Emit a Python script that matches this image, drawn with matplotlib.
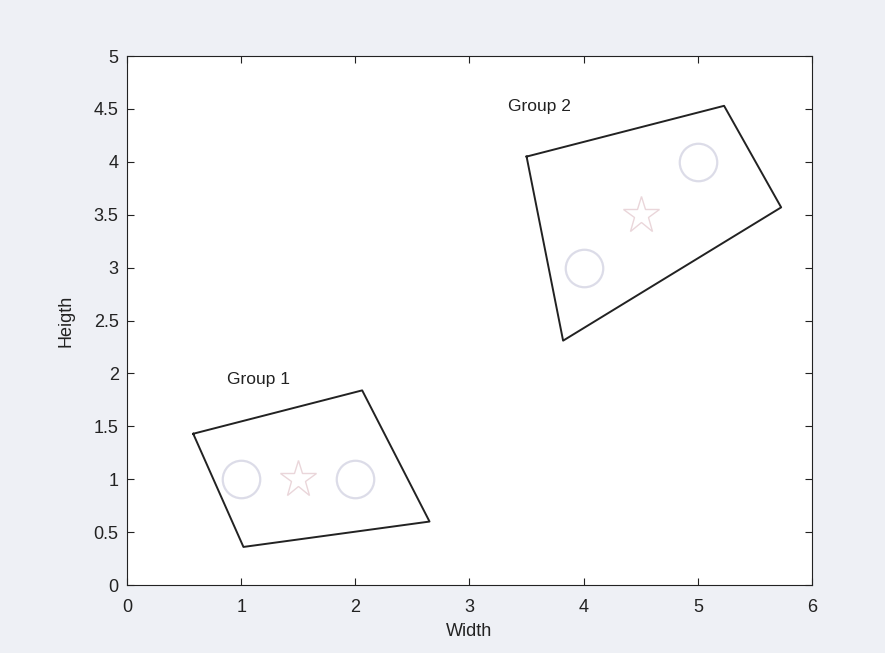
import matplotlib
matplotlib.use("Agg")
import matplotlib.pyplot as plt

plt.rcParams['font.family'] = ['Liberation Sans', 'DejaVu Sans']

# Data
group1_hull_x = [0.58, 2.06, 2.65, 1.02, 0.58]
group1_hull_y = [1.43, 1.84, 0.60, 0.36, 1.43]
group2_hull_x = [3.50, 5.23, 5.73, 3.82, 3.50]
group2_hull_y = [4.05, 4.53, 3.57, 2.31, 4.05]
points_x = [1, 2, 4, 5]
points_y = [1, 1, 3, 4]
centroid_x = [1.5, 4.5]
centroid_y = [1.0, 3.5]
labels = ["Group 1", "Group 2"]
label_x = [0.88, 3.34]
label_y = [1.94, 4.52]

fig = plt.figure(figsize=(8.85, 6.53), dpi=100)
fig.patch.set_facecolor('#eef0f5')
ax = fig.add_axes([0.1435, 0.1041, 0.774, 0.810])
ax.set_facecolor('white')

ax.plot(group1_hull_x, group1_hull_y, color='#222222', lw=1.4)
ax.plot(group2_hull_x, group2_hull_y, color='#222222', lw=1.4)
ax.plot(points_x, points_y, 'o', ms=27, mfc='none', mec='#dcdce8', mew=1.6, ls='none')
ax.plot(centroid_x, centroid_y, '*', ms=28, mfc='none', mec='#ead6da', mew=1.0, ls='none')
for t, x, y in zip(labels, label_x, label_y):
    ax.text(x, y, t, fontsize=12.5, color='#222222', ha='left', va='center')

ax.set_xlim(0, 6)
ax.set_ylim(0, 5)
ax.set_xticks(range(0, 7))
ax.set_yticks([0, 0.5, 1, 1.5, 2, 2.5, 3, 3.5, 4, 4.5, 5])
ax.set_yticklabels(['0', '0.5', '1', '1.5', '2', '2.5', '3', '3.5', '4', '4.5', '5'])
ax.tick_params(direction='in', top=True, right=True, labelsize=13, length=5, colors='#222222')
ax.tick_params(axis='x', pad=10)
ax.tick_params(axis='y', pad=6)
for s in ax.spines.values():
    s.set_color('#222222')
ax.set_xlabel('Width', fontsize=13, color='#222222', labelpad=5)
ax.set_ylabel('Heigth', fontsize=13, color='#222222', labelpad=14)

fig.savefig('out.png', dpi=100, facecolor=fig.get_facecolor())
